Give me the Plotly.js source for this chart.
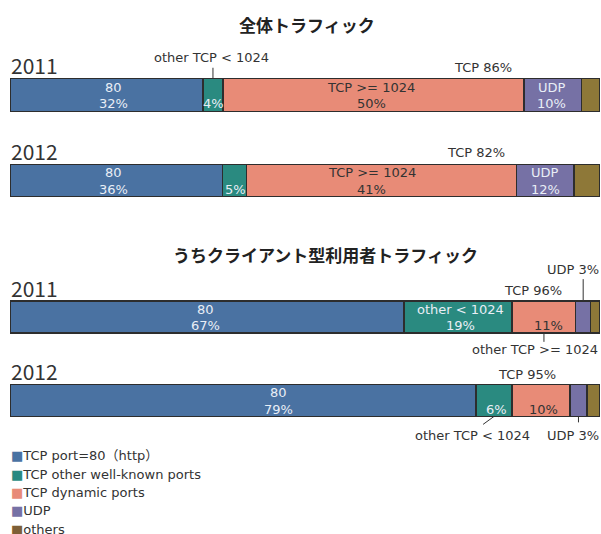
<!DOCTYPE html>
<html>
<head>
<meta charset="utf-8">
<script src="https://cdn.plot.ly/plotly-3.0.1.min.js"></script>
<style>html,body{margin:0;padding:0;background:#fff;}#chart{width:601px;height:534px;}</style>
</head>
<body>
<div id="chart"></div>
<script>
// ---- data ----
const years = ['2011', '2012'];
const seriesNames = ['TCP port=80（http）', 'TCP other well-known ports', 'TCP dynamic ports', 'UDP', 'others'];
const seriesColors = ['#4a72a2', '#2a8a80', '#e88b77', '#7671a5', '#8e7838'];
const legendColors = ['#4a72a2', '#2a8a80', '#e88b77', '#7671a5', '#7d5f37'];

// 全体トラフィック (bar widths, %)
const overallHttp = [32.7, 36.0];
const overallWellKnown = [3.4, 4.1];
const overallDynamic = [51.0, 45.8];
const overallUdp = [9.8, 9.7];
const overallOthers = [3.1, 4.4];

// うちクライアント型利用者トラフィック
const clientHttp = [66.8, 79.0];
const clientWellKnown = [18.3, 6.1];
const clientDynamic = [10.8, 9.8];
const clientUdp = [2.5, 2.9];
const clientOthers = [1.6, 2.2];

// printed labels
const overallHttpLabels = ['32%', '36%'];
const overallWellKnownLabels = ['4%', '5%'];
const overallDynamicLabels = ['50%', '41%'];
const overallUdpLabels = ['10%', '12%'];
const overallTcpLabels = ['TCP 86%', 'TCP 82%'];
const clientHttpLabels = ['67%', '79%'];
const clientWellKnownLabels = ['19%', '6%'];
const clientDynamicLabels = ['11%', '10%'];
const clientTcpLabels = ['TCP 96%', 'TCP 95%'];
const clientUdpLabel = 'UDP 3%';

const titles = ['全体トラフィック', 'うちクライアント型利用者トラフィック'];

// ---- build ----
const W = 601, H = 534;
const FONT = '"Noto Sans CJK JP", "Noto Sans", sans-serif';
const LAT = '"DejaVu Sans", "Noto Sans CJK JP", sans-serif';
const BARW = 0.38; // bar thickness in category units (1 - bargap)
const overall = [overallHttp, overallWellKnown, overallDynamic, overallUdp, overallOthers];
const client = [clientHttp, clientWellKnown, clientDynamic, clientUdp, clientOthers];

const traces = [];
[[overall, 'y'], [client, 'y2']].forEach(([group, yax]) => {
  group.forEach((vals, s) => {
    traces.push({
      type: 'bar', orientation: 'h', x: vals, y: years, yaxis: yax, xaxis: 'x',
      name: seriesNames[s], showlegend: false, hoverinfo: 'x+name',
      marker: {color: seriesColors[s], line: {color: '#2d2d2d', width: 1.3}}
    });
  });
});

function cum(group, b, s) { let t = 0; for (let i = 0; i < s; i++) t += group[i][b]; return t; }
function center(group, b, s) { return cum(group, b, s) + group[s][b] / 2; }
function barTop(b) { return b - BARW / 2; }
function barBottom(b) { return b + BARW / 2; }

const ann = [];
const LIGHT = '#e9eef6', DARK = '#333333';
function txt(yref, x, y, xs, ys, text, color, size) {
  ann.push({xref: 'x', yref: yref, x: x, y: y, xshift: xs, yshift: ys, text: text, showarrow: false,
    xanchor: 'center', yanchor: 'middle', borderpad: 0,
    font: {family: LAT, size: size, color: color}});
}
function inLabel(yref, b, x, xs, lines, color, single) {
  if (single) {
    txt(yref, x, b, xs, -8.5, lines[0], color, 13);
  } else {
    txt(yref, x, b, xs, 8, lines[0], color, 13);
    txt(yref, x, b, xs, -8.5, lines[1], color, 13);
  }
}
function outLabel(yref, x, y, xs, ys, text) { txt(yref, x, y, xs, ys, text, DARK, 13); }

// overall bars
const httpShiftO = [7, -3], dynShiftO = [-2, -10], udpShiftO = [-1, 0];
years.forEach((yr, b) => {
  inLabel('y', b, center(overall, b, 0), httpShiftO[b], ['80', overallHttpLabels[b]], LIGHT);
  inLabel('y', b, center(overall, b, 1), 1, [overallWellKnownLabels[b]], LIGHT, true);
  inLabel('y', b, center(overall, b, 2), dynShiftO[b], ['TCP >= 1024', overallDynamicLabels[b]], DARK);
  inLabel('y', b, center(overall, b, 3), udpShiftO[b], ['UDP', overallUdpLabels[b]], LIGHT);
  outLabel('y', cum(overall, b, 3), barTop(b), -41, 11.5, overallTcpLabels[b]);
  ann.push({xref: 'paper', yref: 'y', x: 0, y: barTop(b), xanchor: 'left', yanchor: 'middle', yshift: 13.5, borderpad: 0,
    text: yr, showarrow: false, font: {family: FONT, size: 21, color: DARK}});
});
outLabel('y', center(overall, 0, 1), barTop(0), -1, 21, 'other TCP < 1024');

// client bars
const httpShiftC = [-2, 35], wkShiftC = [2, 2], dynShiftC = [5, 2];
years.forEach((yr, b) => {
  inLabel('y2', b, center(client, b, 0), httpShiftC[b], ['80', clientHttpLabels[b]], LIGHT);
  outLabel('y2', cum(client, b, 3), barTop(b), -43, 10.5, clientTcpLabels[b]);
  ann.push({xref: 'paper', yref: 'y2', x: 0, y: barTop(b), xanchor: 'left', yanchor: 'middle', yshift: 13.5, borderpad: 0,
    text: yr, showarrow: false, font: {family: FONT, size: 21, color: DARK}});
});
inLabel('y2', 0, center(client, 0, 1), wkShiftC[0], ['other < 1024', clientWellKnownLabels[0]], LIGHT);
inLabel('y2', 1, center(client, 1, 1), wkShiftC[1], [clientWellKnownLabels[1]], LIGHT, true);
inLabel('y2', 0, center(client, 0, 2), dynShiftC[0], [clientDynamicLabels[0]], DARK, true);
inLabel('y2', 1, center(client, 1, 2), dynShiftC[1], [clientDynamicLabels[1]], DARK, true);
outLabel('y2', center(client, 0, 3), barTop(0), -10, 31.5, clientUdpLabel);
outLabel('y2', center(client, 0, 2), barBottom(0), -8.5, -17, 'other TCP >= 1024');
outLabel('y2', center(client, 1, 1), barBottom(1), -22, -19.5, 'other TCP < 1024');
outLabel('y2', center(client, 1, 3), barBottom(1), -5, -19.5, clientUdpLabel);

// leader lines
const lineStyle = {color: '#333333', width: 1};
function leader(yref, xa, ya, x1, y0, y1) {
  return {type: 'line', xref: 'x', yref: yref, xsizemode: 'pixel', ysizemode: 'pixel',
    xanchor: xa, yanchor: ya, x0: 0, x1: x1, y0: y0, y1: y1, line: lineStyle};
}
const shapes = [
  leader('y', center(overall, 0, 1), barTop(0), 0, 0, 11),
  leader('y2', center(client, 0, 3), barTop(0), 0, 0, 22),
  leader('y2', center(client, 0, 2), barBottom(0), 0, 0, -9),
  leader('y2', center(client, 1, 1), barBottom(1), -11, 0, -8),
  leader('y2', center(client, 1, 3), barBottom(1), 0, 0, -6)
];

// titles (paper coords from pixel positions)
function px(x) { return (x - 10) / 590; }
function py(y) { return 1 - y / H; }
ann.push({xref: 'paper', yref: 'paper', x: px(307), y: py(24), xanchor: 'center', yanchor: 'middle',
  text: '<b>' + titles[0] + '</b>', showarrow: false, font: {family: FONT, size: 17, color: '#222222'}});
ann.push({xref: 'paper', yref: 'paper', x: px(325), y: py(255), xanchor: 'center', yanchor: 'middle',
  text: '<b>' + titles[1] + '</b>', showarrow: false, font: {family: FONT, size: 17, color: '#222222'}});

// legend (as text items)
seriesNames.forEach((n, i) => {
  ann.push({xref: 'paper', yref: 'paper', x: px(10), y: py(455.7 + i * 18.4), xanchor: 'left', yanchor: 'middle', borderpad: 0,
    text: '<span style="color:' + legendColors[i] + '">■</span>' + n, showarrow: false,
    font: {family: LAT, size: 13, color: DARK}});
});

const yBase = {type: 'category', showticklabels: false, showgrid: false, zeroline: false, showline: false,
  ticks: '', fixedrange: true};
const layout = {
  width: W, height: H, margin: {l: 10, r: 1, t: 0, b: 0, pad: 0},
  paper_bgcolor: '#ffffff', plot_bgcolor: '#ffffff',
  barmode: 'stack', bargap: 1 - BARW, showlegend: false,
  xaxis: {range: [0, 100], visible: false, fixedrange: true, anchor: 'y'},
  yaxis: Object.assign({}, yBase, {domain: [1 - 223.25 / H, 1 - 52.25 / H], range: [1.5, -0.5]}),
  yaxis2: Object.assign({}, yBase, {domain: [1 - 442.25 / H, 1 - 275.25 / H], range: [1.5, -0.5]}),
  annotations: ann, shapes: shapes,
  font: {family: FONT}
};
Plotly.newPlot('chart', traces, layout, {displayModeBar: false, staticPlot: true});
</script>
</body>
</html>
